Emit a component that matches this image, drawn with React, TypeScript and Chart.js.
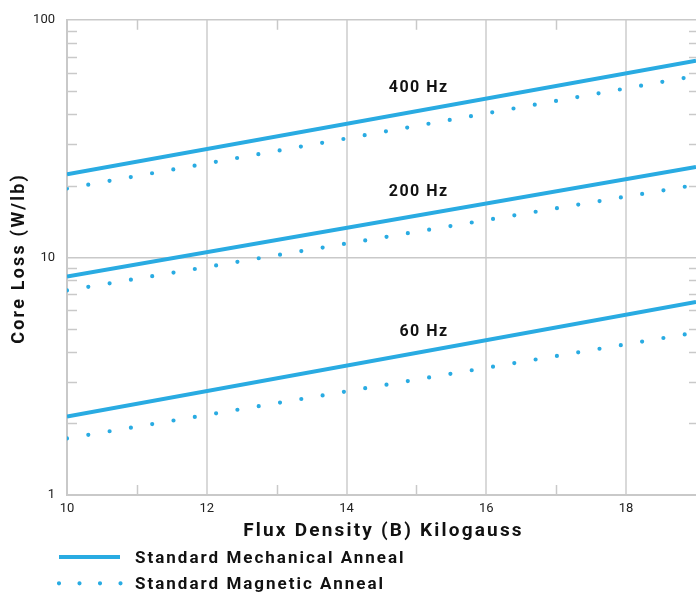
import React, { useEffect, useRef } from 'react';
import { Chart, registerables } from 'chart.js';

Chart.register(...registerables);

// ---- data ----
const fluxRange = [10, 19];
const mech400 = [22.4, 67.2];
const mag400 = [19.5, 58.1];
const mech200 = [8.3, 24.0];
const mag200 = [7.26, 20.2];
const mech60 = [2.14, 6.5];
const mag60 = [1.73, 4.83];

const freqLabels = ['400 Hz', '200 Hz', '60 Hz'];
const freqLabelX = [15.44, 15.44, 15.44];
const freqLabelY = [49.5, 18.2, 4.67];

const xTickLabels = ['10', '12', '14', '16', '18'];
const xMinorTicks = [11, 13, 15, 17];
const yTickLabels = ['1', '10', '100'];
const yMinorTicks = [2, 3, 4, 5, 6, 7, 8, 9, 20, 30, 40, 50, 60, 70, 80, 90];
const legendLabels = ['Standard Mechanical Anneal', 'Standard Magnetic Anneal'];
const xTitle = 'Flux Density (B) Kilogauss';
const yTitle = 'Core Loss (W/lb)';

const BLUE = '#29abe2';
const AXIS = '#c9c9c9';
const GRID = '#d9d9d9';
const FONT = 'Roboto';

const toPoints = (vals: number[]) => vals.map((v, i) => ({ x: fluxRange[i], y: v }));

const solid = (vals: number[]) => ({
  data: toPoints(vals),
  borderColor: BLUE,
  borderWidth: 4,
  pointRadius: 0,
  fill: false,
  tension: 0,
});
const dotted = (vals: number[]) => ({
  data: toPoints(vals),
  borderColor: BLUE,
  borderWidth: 4.2,
  borderDash: [0, 21.6],
  borderCapStyle: 'round' as const,
  pointRadius: 0,
  fill: false,
  tension: 0,
});

const decorPlugin = {
  id: 'decor',
  afterDraw(chart: any) {
    const ctx = chart.ctx as CanvasRenderingContext2D;
    const xs = chart.scales.x;
    const ys = chart.scales.y;
    const area = chart.chartArea;
    ctx.save();
    // minor ticks
    ctx.strokeStyle = AXIS;
    ctx.lineWidth = 1.5;
    ctx.beginPath();
    yMinorTicks.forEach((v) => {
      const py = Math.round(ys.getPixelForValue(v)) + 0.5;
      ctx.moveTo(area.left, py);
      ctx.lineTo(area.left + 10, py);
      ctx.moveTo(area.right - 7, py);
      ctx.lineTo(area.right, py);
    });
    xMinorTicks.forEach((v) => {
      const px = Math.round(xs.getPixelForValue(v)) + 0.5;
      ctx.moveTo(px, area.bottom);
      ctx.lineTo(px, area.bottom - 10);
      ctx.moveTo(px, area.top);
      ctx.lineTo(px, area.top + 10);
    });
    ctx.stroke();

    // frequency annotations
    ctx.fillStyle = '#111';
    (ctx as any).letterSpacing = '1.5px';
    ctx.font = `bold 16px ${FONT}`;
    ctx.textAlign = 'right';
    ctx.textBaseline = 'alphabetic';
    freqLabels.forEach((t, i) => {
      ctx.fillText(t, xs.getPixelForValue(freqLabelX[i]) + 1.5, ys.getPixelForValue(freqLabelY[i]));
    });

    // x title
    (ctx as any).letterSpacing = '2.2px';
    ctx.font = `bold 19px ${FONT}`;
    ctx.textAlign = 'center';
    ctx.fillText(xTitle, (area.left + area.right) / 2 + 2, 535.5);

    // y title
    ctx.save();
    ctx.translate(19.5, (area.top + area.bottom) / 2 + 1);
    ctx.rotate(-Math.PI / 2);
    (ctx as any).letterSpacing = '2.2px';
    ctx.font = `bold 18px ${FONT}`;
    ctx.textBaseline = 'middle';
    ctx.fillText(yTitle, 0, 0);
    ctx.restore();

    // legend
    ctx.strokeStyle = BLUE;
    ctx.lineWidth = 4;
    ctx.lineCap = 'butt';
    ctx.beginPath();
    ctx.moveTo(59, 557);
    ctx.lineTo(120, 557);
    ctx.stroke();
    ctx.lineCap = 'round';
    ctx.lineWidth = 4.2;
    ctx.setLineDash([0, 20.5]);
    ctx.beginPath();
    ctx.moveTo(59, 583.3);
    ctx.lineTo(122, 583.3);
    ctx.stroke();
    ctx.setLineDash([]);
    (ctx as any).letterSpacing = '2px';
    ctx.font = `bold 17px ${FONT}`;
    ctx.textAlign = 'left';
    ctx.textBaseline = 'alphabetic';
    ctx.fillText(legendLabels[0], 135, 562.8);
    ctx.fillText(legendLabels[1], 135, 589.3);
    ctx.restore();
  },
};

export default function App() {
  const ref = useRef<HTMLCanvasElement | null>(null);
  useEffect(() => {
    document.body.style.margin = '0';
    if (!ref.current) return;
    const chart = new Chart(ref.current, {
      type: 'line',
      data: {
        datasets: [
          solid(mech400),
          dotted(mag400),
          solid(mech200),
          dotted(mag200),
          solid(mech60),
          dotted(mag60),
        ] as any,
      },
      options: {
        animation: false,
        responsive: true,
        maintainAspectRatio: false,
        layout: { padding: { top: 17, left: 0, right: 0, bottom: 0 } },
        plugins: { legend: { display: false }, tooltip: { enabled: false } },
        scales: {
          x: {
            type: 'linear',
            min: 10,
            max: 19,
            afterFit: (s: any) => {
              s.height = 98;
              s.paddingRight = 0;
              s.paddingLeft = 0;
            },
            ticks: {
              stepSize: 1,
              autoSkip: false,
              maxRotation: 0,
              padding: 6,
              color: '#222',
              font: { family: FONT, size: 13 },
              callback: (v: any) => (xTickLabels.includes(String(v)) ? String(v) : ''),
            },
            grid: {
              drawTicks: false,
              lineWidth: 2,
              color: (c: any) =>
                c.tick && xTickLabels.includes(String(c.tick.value)) && c.tick.value > 10 ? GRID : 'rgba(0,0,0,0)',
            },
            border: { display: true, color: AXIS, width: 2 },
          },
          y: {
            type: 'logarithmic',
            min: 1,
            max: 100,
            afterFit: (s: any) => {
              s.width = 67;
            },
            ticks: {
              autoSkip: false,
              padding: 12,
              color: '#222',
              font: { family: FONT, size: 13 },
              callback: (v: any) => (yTickLabels.includes(String(v)) ? String(v) : ''),
            },
            grid: {
              drawTicks: false,
              lineWidth: 1.5,
              color: (c: any) =>
                c.tick && (c.tick.value === 10 || c.tick.value === 100) ? AXIS : 'rgba(0,0,0,0)',
            },
            border: { display: true, color: AXIS, width: 2 },
          },
        },
      },
      plugins: [decorPlugin],
    });
    return () => chart.destroy();
  }, []);
  return (
    <div style={{ position: 'absolute', left: 0, top: 0, width: 696, height: 593 }}>
      <canvas ref={ref} />
    </div>
  );
}
